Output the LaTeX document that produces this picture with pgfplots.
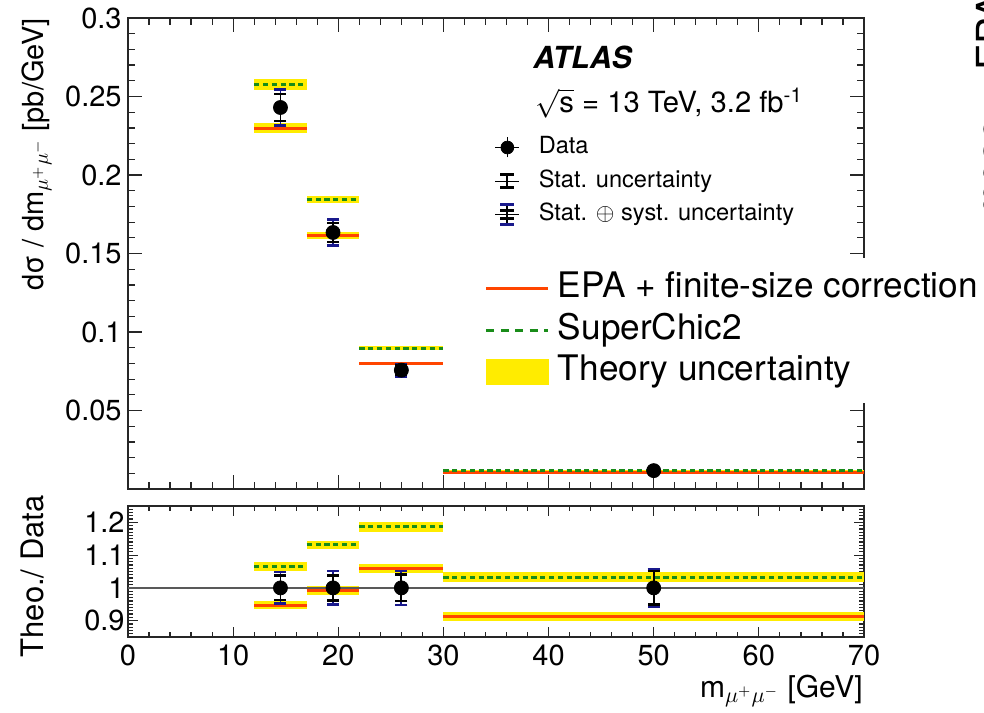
\documentclass[border=0pt]{standalone}
\usepackage{fontspec}
\setmainfont{TeX Gyre Heros}
\usepackage{pgfplots}
\pgfplotsset{compat=1.18}
\definecolor{epared}{RGB}{255,69,0}
\definecolor{scgreen}{RGB}{25,140,25}
\definecolor{bandyel}{RGB}{255,236,0}
\definecolor{errblue}{RGB}{25,25,140}
\pgfplotsset{
  atlas/.style={
    scale only axis, width=368pt, xmin=0, xmax=70,
    xtick={0,10,...,70}, minor x tick num=4,
    tick align=inside,
    /pgf/number format/assume math mode=true,
    ticklabel style={font=\fontsize{14.5}{16}\selectfont},
    axis line style={line width=0.7pt, black!85},
    tick style={line width=0.6pt, black!85},
    clip=true,
  },
  theoband/.style={fill=bandyel, draw=none, forget plot},
  epaline/.style={epared, line width=1.5pt, jump mark left, forget plot},
  scline/.style={scgreen, line width=1.5pt, dash pattern=on 2.6pt off 1.8pt, jump mark left, forget plot},
  toterr/.style={errblue, only marks, mark=none, forget plot,
    error bars/.cd, y dir=both, y explicit,
    error bar style={line width=0.9pt, errblue},
    error mark options={rotate=90, mark size=3pt, line width=1.3pt, errblue}},
  staterr/.style={black, only marks, mark=*, mark size=3.5pt, forget plot,
    error bars/.cd, y dir=both, y explicit,
    error bar style={line width=0.9pt, black},
    error mark options={rotate=90, mark size=3pt, line width=1.3pt, black}},
}
\begin{document}
\begin{tikzpicture}
\useasboundingbox (0,0) rectangle (492pt,356pt);
% ---------------- top panel ----------------
\begin{axis}[atlas, at={(64pt,111.5pt)}, anchor=south west, height=235.5pt,
  ymin=0, ymax=0.3,
  ytick={0.05,0.1,0.15,0.2,0.25,0.3},
  minor ytick={0.01,0.02,...,0.3},
  xticklabels={},
  major tick length=7pt, minor tick length=3.5pt,
  yticklabel style={/pgf/number format/fixed, /pgf/number format/precision=2, inner sep=3pt},
  legend cell align=left,
  legend style={at={(0.4986,0.7495)}, anchor=north west, draw=none, fill=none,
    inner sep=0pt, outer sep=0pt, font=\fontsize{11.8}{13}\selectfont,
    row sep=5.25pt, column sep=9.5pt,
    nodes={inner sep=0pt, text height=9pt, text depth=2.5pt}},
]
% theory uncertainty bands
\addplot[theoband] coordinates {(12,0.2266) (17,0.2266) (17,0.2330) (12,0.2330)} --cycle;
\addplot[theoband] coordinates {(12,0.2544) (17,0.2544) (17,0.2614) (12,0.2614)} --cycle;
\addplot[theoband] coordinates {(17,0.1594) (22,0.1594) (22,0.1638) (17,0.1638)} --cycle;
\addplot[theoband] coordinates {(17,0.1824) (22,0.1824) (22,0.1868) (17,0.1868)} --cycle;
\addplot[theoband] coordinates {(22,0.0789) (30,0.0789) (30,0.0811) (22,0.0811)} --cycle;
\addplot[theoband] coordinates {(22,0.0886) (30,0.0886) (30,0.0908) (22,0.0908)} --cycle;
\addplot[theoband] coordinates {(30,0.01055) (70,0.01055) (70,0.01085) (30,0.01085)} --cycle;
\addplot[theoband] coordinates {(30,0.01192) (70,0.01192) (70,0.01228) (30,0.01228)} --cycle;
% EPA + finite-size correction
\addplot[epaline] coordinates {(12,0.2298) (17,0.1616) (22,0.0800) (30,0.0107) (70,0.0107)};
% SuperChic2
\addplot[scline] coordinates {(12,0.2579) (17,0.1846) (22,0.0897) (30,0.0121) (70,0.0121)};
% data: total and statistical uncertainty
\addplot[toterr] coordinates {(14.5,0.2430) +- (0,0.0115) (19.5,0.1634) +- (0,0.0083) (26,0.0757) +- (0,0.0039) (50,0.0117) +- (0,0.00066)};
\addplot[staterr] coordinates {(14.5,0.2430) +- (0,0.0085) (19.5,0.1634) +- (0,0.0061) (26,0.0757) +- (0,0.0030) (50,0.0117) +- (0,0.0006)};
% legend (data)
\addlegendimage{legend image code/.code={
  \path (0pt,0pt) -- (12pt,0pt);
  \draw[black, line width=0.8pt] (6pt,-5pt) -- (6pt,5pt);
  \fill[black] (6pt,0pt) circle (3.2pt);}}
\addlegendentry{Data}
\addlegendimage{legend image code/.code={
  \path (0pt,0pt) -- (12pt,0pt);
  \draw[black, line width=0.9pt] (6pt,-3.3pt) -- (6pt,3.3pt);
  \draw[black, line width=1.8pt] (2.5pt,-3.3pt) -- (9.5pt,-3.3pt) (2.5pt,3.3pt) -- (9.5pt,3.3pt);}}
\addlegendentry{Stat. uncertainty}
\addlegendimage{legend image code/.code={
  \path (0pt,0pt) -- (12pt,0pt);
  \draw[black, line width=0.9pt] (6pt,-5pt) -- (6pt,5pt);
  \draw[errblue, line width=1.5pt] (2.5pt,-5pt) -- (9.5pt,-5pt) (2.5pt,5pt) -- (9.5pt,5pt);
  \draw[black, line width=1.5pt] (2.5pt,-2pt) -- (9.5pt,-2pt) (2.5pt,2pt) -- (9.5pt,2pt);}}
\addlegendentry{Stat. $\oplus$ syst. uncertainty}
\end{axis}
% ---------------- ratio panel ----------------
\begin{axis}[atlas, at={(64pt,37.5pt)}, anchor=south west, height=65.5pt,
  ymin=0.85, ymax=1.25,
  ytick={0.9,1,1.1,1.2},
  minor ytick={0.86,0.87,...,1.25},
  major tick length=5pt, minor tick length=2.5pt,
  yticklabel style={/pgf/number format/fixed, /pgf/number format/precision=1, inner sep=1.5pt},
  xticklabel style={inner sep=4pt},
  legend cell align=left,
  legend style={at={(0.4660,2.8931)}, anchor=north west, draw=none, fill=white,
    inner sep=7pt, outer sep=0pt, font=\fontsize{17.6}{19}\selectfont,
    row sep=3.75pt, column sep=4pt,
    nodes={inner sep=0pt, text height=13pt, text depth=4pt}},
]
\addplot[theoband] coordinates {(12,0.934) (17,0.934) (17,0.960) (12,0.960)} --cycle;
\addplot[theoband] coordinates {(12,1.050) (17,1.050) (17,1.078) (12,1.078)} --cycle;
\addplot[theoband] coordinates {(17,0.978) (22,0.978) (22,1.006) (17,1.006)} --cycle;
\addplot[theoband] coordinates {(17,1.118) (22,1.118) (22,1.144) (17,1.144)} --cycle;
\addplot[theoband] coordinates {(22,1.044) (30,1.044) (30,1.074) (22,1.074)} --cycle;
\addplot[theoband] coordinates {(22,1.171) (30,1.171) (30,1.201) (22,1.201)} --cycle;
\addplot[theoband] coordinates {(30,0.899) (70,0.899) (70,0.925) (30,0.925)} --cycle;
\addplot[theoband] coordinates {(30,1.017) (70,1.017) (70,1.047) (30,1.047)} --cycle;
\addplot[black!65, line width=0.8pt, forget plot] coordinates {(0,1) (70,1)};
\addplot[epaline] coordinates {(12,0.947) (17,0.992) (22,1.059) (30,0.912) (70,0.912)};
\addplot[scline] coordinates {(12,1.064) (17,1.131) (22,1.186) (30,1.032) (70,1.032)};
\addplot[toterr] coordinates {(14.5,1) +- (0,0.048) (19.5,1) +- (0,0.051) (26,1) +- (0,0.052) (50,1) +- (0,0.056)};
\addplot[staterr] coordinates {(14.5,1) +- (0,0.037) (19.5,1) +- (0,0.038) (26,1) +- (0,0.040) (50,1) +- (0,0.051)};
% legend (theory)
\addlegendimage{legend image code/.code={\draw[epared, line width=1.5pt] (0pt,0pt) -- (31pt,0pt);}}
\addlegendentry{EPA + finite-size correction}
\addlegendimage{legend image code/.code={\draw[scgreen, line width=1.5pt, dash pattern=on 4pt off 3.2pt] (0pt,0pt) -- (31pt,0pt);}}
\addlegendentry{SuperChic2}
\addlegendimage{legend image code/.code={\fill[bandyel] (0pt,-6.25pt) rectangle (31pt,6.25pt);}}
\addlegendentry{Theory uncertainty}
\end{axis}
% ---------------- labels and texts ----------------
\node[rotate=90, anchor=base east, inner sep=0pt, font=\fontsize{14.5}{16}\selectfont]
  at (21.5pt,347pt) {dσ / dm$_{\mu^{+}\mu^{-}}$ [pb/GeV]};
\node[rotate=90, anchor=base east, inner sep=0pt, font=\fontsize{15.5}{17}\selectfont]
  at (21.5pt,108.5pt) {Theo./ Data};
\node[anchor=base east, inner sep=0pt, font=\fontsize{15}{17}\selectfont]
  at (431.5pt,7.5pt) {m$_{\mu^{+}\mu^{-}}$ [GeV]};
\node[anchor=base west, inner sep=0pt, font=\fontsize{15.2}{17}\selectfont\bfseries\itshape]
  at (266.5pt,321.85pt) {ATLAS};
\node[anchor=base west, inner sep=0pt, font=\fontsize{14.6}{16}\selectfont]
  at (267.5pt,299.65pt) {$\sqrt{\mbox{s}}$ = 13 TeV, 3.2 fb\textsuperscript{-1}};
\node[rotate=90, anchor=base west, inner sep=0pt, font=\fontsize{20}{22}\selectfont]
  at (510.5pt,234pt) {σ$^{\mbox{meas}}$/ σ$^{\mbox{EPA}}$};
\end{tikzpicture}
\end{document}
